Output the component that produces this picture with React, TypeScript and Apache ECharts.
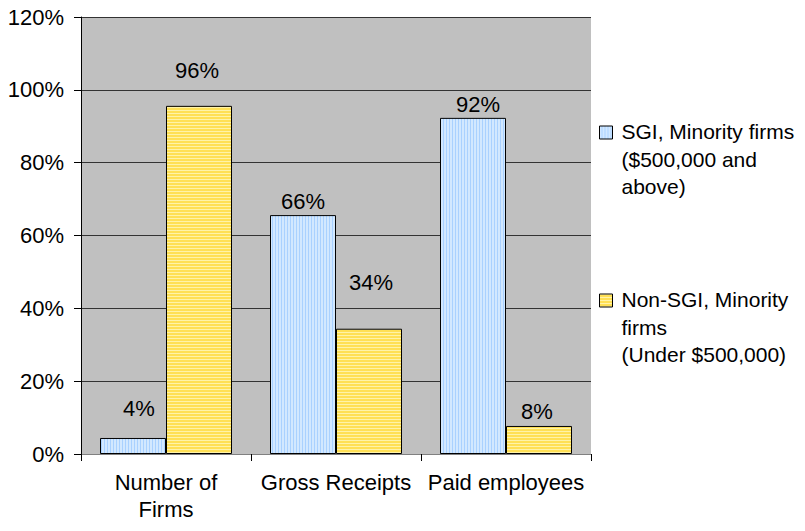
import React, { useEffect, useRef } from "react";
import * as echarts from "echarts";

const categories = ["Number of\nFirms", "Gross Receipts", "Paid employees"];
const sgiValues = [4.4, 65.6, 92.3];
const nonSgiValues = [95.6, 34.4, 7.7];
const yTicks = [0, 20, 40, 60, 80, 100, 120];
const legendSgi = ["SGI, Minority firms", "($500,000 and", "above)"];
const legendNon = ["Non-SGI, Minority", "firms", "(Under $500,000)"];

// label offsets (style only) to mimic placement in the reference
const sgiLabelOffsets = [[6, -13], [0, 2], [5, 3]];
const nonLabelOffsets = [[-2, -19], [2, -30], [-2, 2]];

function makePattern(kind: "v" | "h") {
  const c = document.createElement("canvas");
  c.width = 3;
  c.height = 3;
  const ctx = c.getContext("2d")!;
  if (kind === "v") {
    ctx.fillStyle = "#D2E8FF";
    ctx.fillRect(0, 0, 3, 3);
    ctx.fillStyle = "#A9D1FF";
    ctx.fillRect(2, 0, 1, 3);
  } else {
    ctx.fillStyle = "#FFE055";
    ctx.fillRect(0, 0, 3, 3);
    ctx.fillStyle = "#FFF3A8";
    ctx.fillRect(0, 2, 3, 1);
  }
  return { image: c, repeat: "repeat" } as any;
}

const FONT = "Liberation Sans, Arial, sans-serif";
const FS = 22;
const LEG_FS = 21;

export default function App() {
  const ref = useRef<HTMLDivElement>(null);
  useEffect(() => {
    if (!ref.current) return;
    const chart = echarts.init(ref.current, undefined, { renderer: "svg" });
    const bluePat = makePattern("v");
    const yellowPat = makePattern("h");
    const blueLegPat = makePattern("v");
    const yellowLegPat = makePattern("h");

    const mkData = (vals: number[], offs: number[][]) =>
      vals.map((v, i) => ({ value: v, label: { offset: offs[i] } }));

    const legendGraphic = (lines: string[], top: number, pat: any) => ({
      type: "group",
      left: 599,
      top: top,
      children: [
        {
          type: "rect",
          shape: { x: 0, y: 8, width: 13, height: 13 },
          style: { fill: pat, stroke: "#000", lineWidth: 1 },
        },
        {
          type: "text",
          x: 22,
          y: 0,
          style: {
            text: lines.join("\n"),
            font: `${LEG_FS}px ${FONT}`,
            lineHeight: 27.5,
            fill: "#000",
          },
        },
      ],
    });

    chart.setOption({
      animation: false,
      backgroundColor: "#ffffff",
      textStyle: { fontFamily: FONT },
      grid: {
        left: 81,
        right: 214,
        top: 17,
        bottom: 77,
        show: true,
        backgroundColor: "#C0C0C0",
        borderWidth: 0,
      },
      xAxis: {
        type: "category",
        data: categories,
        axisLine: { show: true, lineStyle: { color: "#808080", width: 1 } },
        axisTick: { show: true, alignWithLabel: false, length: 7, lineStyle: { color: "#000" } },
        axisLabel: {
          color: "#000",
          fontSize: FS,
          lineHeight: 27,
          margin: 15,
          fontFamily: FONT,
          interval: 0,
        },
      },
      yAxis: {
        type: "value",
        min: 0,
        max: 120,
        interval: 20,
        axisLine: { show: true, lineStyle: { color: "#000", width: 1 } },
        axisTick: { show: true, length: 7, lineStyle: { color: "#000" } },
        splitLine: { show: true, lineStyle: { color: "#333", width: 1 } },
        axisLabel: {
          color: "#000",
          fontSize: FS,
          margin: 17,
          fontFamily: FONT,
          formatter: (v: number) => (yTicks.includes(v) ? `${v}%` : ""),
        },
      },
      series: [
        {
          name: "SGI, Minority firms ($500,000 and above)",
          type: "bar",
          barWidth: 66,
          barGap: "0%",
          data: mkData(sgiValues, sgiLabelOffsets),
          itemStyle: { color: bluePat, borderColor: "#000", borderWidth: 1 },
          label: {
            show: true,
            position: "top",
            color: "#000",
            fontSize: FS,
            fontFamily: FONT,
            formatter: (p: any) => `${Math.round(p.value)}%`,
          },
        },
        {
          name: "Non-SGI, Minority firms (Under $500,000)",
          type: "bar",
          barWidth: 66,
          barGap: "0%",
          data: mkData(nonSgiValues, nonLabelOffsets),
          itemStyle: { color: yellowPat, borderColor: "#000", borderWidth: 1 },
          label: {
            show: true,
            position: "top",
            color: "#000",
            fontSize: FS,
            fontFamily: FONT,
            formatter: (p: any) => `${Math.round(p.value)}%`,
          },
        },
      ],
      graphic: [
        legendGraphic(legendSgi, 118, blueLegPat),
        legendGraphic(legendNon, 286, yellowLegPat),
      ],
    });
    return () => chart.dispose();
  }, []);
  return <div ref={ref} style={{ width: 805, height: 531, margin: -8 }} />;
}
